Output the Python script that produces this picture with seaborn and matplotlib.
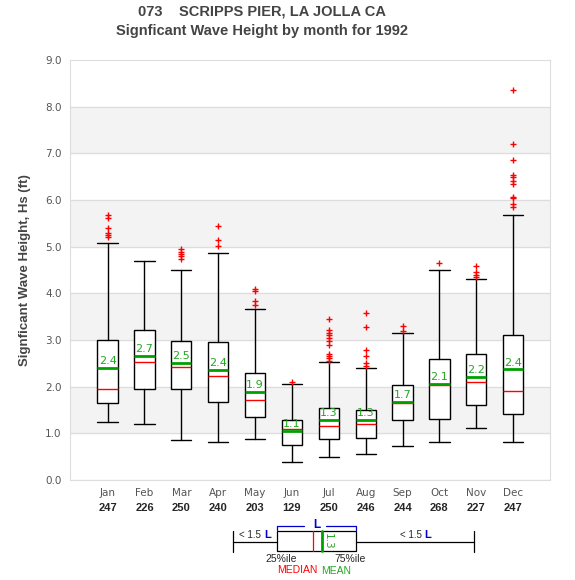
import seaborn as sns
import matplotlib.pyplot as plt
import pandas as pd
from matplotlib.transforms import blended_transform_factory

# ---- data ----
months = ["Jan", "Feb", "Mar", "Apr", "May", "Jun", "Jul", "Aug", "Sep", "Oct", "Nov", "Dec"]
counts = [247, 226, 250, 240, 203, 129, 250, 246, 244, 268, 227, 247]
whisker_low = [1.24, 1.21, 0.86, 0.81, 0.88, 0.38, 0.49, 0.55, 0.72, 0.81, 1.11, 0.81]
q1 = [1.65, 1.96, 1.96, 1.67, 1.36, 0.74, 0.87, 0.91, 1.28, 1.30, 1.60, 1.41]
median = [1.96, 2.52, 2.42, 2.23, 1.71, 1.09, 1.15, 1.21, 1.64, 2.03, 2.09, 1.90]
q3 = [3.01, 3.21, 2.97, 2.95, 2.29, 1.28, 1.54, 1.49, 2.03, 2.59, 2.69, 3.10]
whisker_high = [5.07, 4.69, 4.51, 4.86, 3.66, 2.05, 2.52, 2.39, 3.16, 4.51, 4.30, 5.67]
mean = [2.41, 2.66, 2.51, 2.36, 1.89, 1.06, 1.29, 1.29, 1.67, 2.06, 2.21, 2.37]
outliers = [
    [5.68, 5.62, 5.41, 5.30, 5.26, 5.21],
    [],
    [4.94, 4.89, 4.84, 4.79, 4.74],
    [5.44, 5.14, 5.01],
    [4.09, 4.06, 3.84, 3.76],
    [2.09],
    [3.45, 3.21, 3.16, 3.11, 3.05, 2.97, 2.89, 2.71, 2.66, 2.61, 2.56],
    [3.57, 3.27, 2.79, 2.66, 2.50, 2.45],
    [3.31, 3.20],
    [4.65],
    [4.59, 4.46, 4.40, 4.36],
    [8.35, 7.21, 6.85, 6.53, 6.49, 6.40, 6.34, 6.06, 6.04, 5.92, 5.84],
]

title1 = "073    SCRIPPS PIER, LA JOLLA CA"
title2 = "Signficant Wave Height by month for 1992"
ylabel = "Signficant Wave Height, Hs (ft)"

# ---- figure ----
sns.set_style("white")
plt.rcParams["font.family"] = ["DejaVu Sans"]
fig = plt.figure(figsize=(5.75, 5.8), dpi=100)
ax = fig.add_axes([70 / 575, 1 - 480 / 580, 480 / 575, 420 / 580])

# alternating bands + grid
for k in range(9):
    if k % 2 == 1:
        ax.axhspan(k, k + 1, color="#f3f3f3", zorder=0)
    ax.axhline(k, color="#dddddd", lw=0.9, zorder=0.5)

stats = []
for i in range(len(months)):
    stats.append(dict(med=median[i], q1=q1[i], q3=q3[i],
                      whislo=whisker_low[i], whishi=whisker_high[i], fliers=[]))
pos = list(range(len(months)))
ax.bxp(stats, positions=pos, widths=0.55, showfliers=False, patch_artist=True,
       boxprops=dict(facecolor="white", edgecolor="black", lw=1.0),
       whiskerprops=dict(color="black", lw=1.0),
       capprops=dict(color="black", lw=1.0),
       capwidths=0.55,
       medianprops=dict(color="red", lw=1.0), zorder=2)

# outliers
fl = pd.DataFrame([(i, v) for i, vals in enumerate(outliers) for v in vals], columns=["pos", "hs"])
sns.scatterplot(data=fl, x="pos", y="hs", marker="+", color="red", s=16, linewidth=1.0, ax=ax, zorder=3)

# means
ax.hlines(mean, [p - 0.275 for p in pos], [p + 0.275 for p in pos], color="#00a000", lw=2.0, zorder=4)
for p, m in zip(pos, mean):
    ax.text(p, m + 0.04, f"{m:.1f}", ha="center", va="bottom", color="#22a822", fontsize=8, zorder=5)

ax.set_xlim(-1.02, 12.0)
ax.set_ylim(0, 9)
ax.set_yticks(range(10))
ax.set_yticklabels([f"{v:.1f}" for v in range(10)], color="#555555", fontsize=7.5)
ax.set_xticks(pos)
ax.set_xticklabels(months, color="#555555", fontsize=7.5)
ax.tick_params(axis="both", length=0, pad=6)
ax.set_xlabel("")
ax.set_ylabel(ylabel, fontsize=9.5, fontweight="bold", color="#444444",
              family=["Liberation Sans"], labelpad=10)
for s in ax.spines.values():
    s.set_color("#dddddd")

tr = blended_transform_factory(ax.transData, ax.transAxes)
for p, c in zip(pos, counts):
    ax.text(p, -0.054, str(c), transform=tr, ha="center", va="top", fontsize=8,
            fontweight="bold", family=["Liberation Sans"])

fig.text(262 / 575, 1 - 12 / 580, title1, ha="center", va="center", fontsize=10.5,
         fontweight="bold", color="#444444", family=["Liberation Sans"])
fig.text(262 / 575, 1 - 31 / 580, title2, ha="center", va="center", fontsize=10.5,
         fontweight="bold", color="#444444", family=["Liberation Sans"])

# ---- legend schematic (pixel coordinates) ----
lg = fig.add_axes([0, 0, 1, 1], facecolor="none")
lg.set_xlim(0, 575)
lg.set_ylim(580, 0)
lg.axis("off")
lf = ["Liberation Sans"]
lg.plot([232.7, 277.3], [541.5, 541.5], color="black", lw=0.9)
lg.plot([356.3, 474.3], [541.5, 541.5], color="black", lw=0.9)
lg.plot([232.7, 232.7], [531, 551.5], color="black", lw=0.9)
lg.plot([474.3, 474.3], [531, 551.5], color="black", lw=0.9)
lg.add_patch(plt.Rectangle((277.3, 531.3), 79, 20, fill=False, ec="black", lw=0.9))
lg.plot([313.3, 313.3], [531.3, 551.3], color="red", lw=0.9)
lg.plot([321.7, 321.7], [531.3, 551.3], color="#00a000", lw=2.0)
lg.text(327.5, 541, "1.3", rotation=-90, ha="center", va="center", color="#22a822", fontsize=7.5)
lg.plot([277.3, 277.3, 304], [529.5, 525.7, 525.7], color="#0000cc", lw=0.9)
lg.plot([326, 356.3, 356.3], [525.7, 525.7, 529.5], color="#0000cc", lw=0.9)
lg.text(316.5, 525, "L", ha="center", va="center", color="#0000cc", fontsize=8.5,
        fontweight="bold", family=lf)
lg.text(239, 535, "< 1.5", ha="left", va="center", fontsize=7, family=lf)
lg.text(264, 535, "L", ha="left", va="center", fontsize=8, fontweight="bold",
        color="#0000cc", family=lf)
lg.text(400, 535, "< 1.5", ha="left", va="center", fontsize=7, family=lf)
lg.text(424, 535, "L", ha="left", va="center", fontsize=8, fontweight="bold",
        color="#0000cc", family=lf)
lg.text(281, 559, "25%ile", ha="center", va="center", fontsize=7.5, family=lf)
lg.text(350, 559, "75%ile", ha="center", va="center", fontsize=7.5, family=lf)
lg.text(297, 570, "MEDIAN", ha="center", va="center", fontsize=7.5, color="red", family=lf)
lg.text(336, 571, "MEAN", ha="center", va="center", fontsize=7.5, color="#22a822", family=lf)

fig.savefig("out.png", dpi=100)
